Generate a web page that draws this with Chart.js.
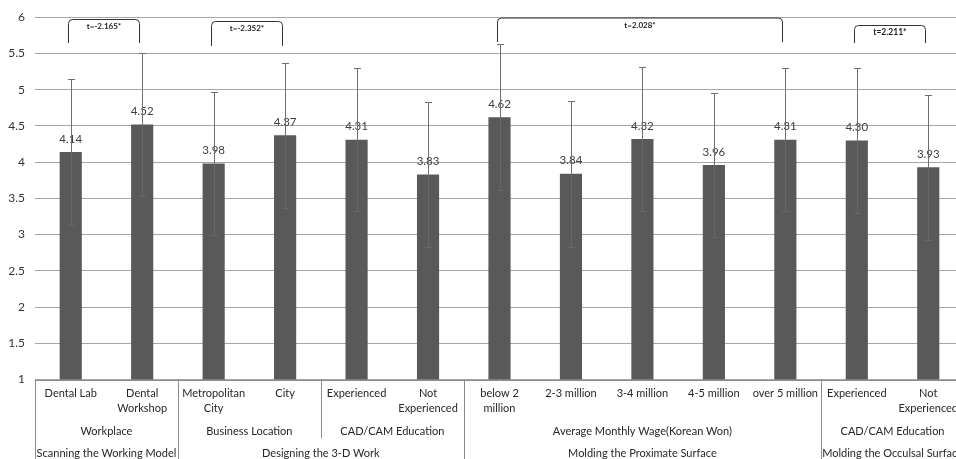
<!DOCTYPE html>
<html>
<head>
<meta charset="utf-8">
<script src="https://cdn.jsdelivr.net/npm/chart.js@4/dist/chart.umd.min.js"></script>
<style>
  html, body { margin: 0; padding: 0; background: #fff; overflow: hidden; }
  #wrap { position: relative; width: 964px; height: 459px; }
</style>
</head>
<body>
<div id="wrap"><canvas id="c"></canvas></div>
<script>
// ---- data ----
const categories = [
  ["Dental Lab"], ["Dental", "Workshop"], ["Metropolitan", "City"], ["City"],
  ["Experienced"], ["Not", "Experienced"], ["below 2", "million"], ["2-3 million"],
  ["3-4 million"], ["4-5 million"], ["over 5 million"], ["Experienced"], ["Not", "Experienced"]
];
const means = [4.14, 4.52, 3.98, 4.37, 4.31, 3.83, 4.62, 3.84, 4.32, 3.96, 4.31, 4.30, 3.93];
const sds   = [1.01, 0.99, 0.99, 1.00, 0.99, 1.00, 1.01, 1.01, 0.99, 1.00, 0.99, 1.00, 1.00];

const groupLabels = ["Workplace", "Business Location", "CAD/CAM Education", "Average Monthly Wage(Korean Won)", "CAD/CAM Education"];
const groupStart  = [0, 2, 4, 6, 11];
const groupEnd    = [1, 3, 5, 10, 12];

const sectionLabels = ["Scanning the Working Model", "Designing the 3-D Work", "Molding the Proximate Surface", "Molding the Occulsal Surface"];
const sectionStart  = [0, 2, 6, 11];
const sectionEnd    = [1, 5, 10, 12];

const testLabels = ["t=-2.165*", "t=-2.352*", "t=2.028*", "t=2.211*"];
const testStart  = [0, 2, 6, 11];
const testEnd    = [1, 3, 10, 12];

const yTicks = [1, 1.5, 2, 2.5, 3, 3.5, 4, 4.5, 5, 5.5, 6];

// ---- styling (not data) ----
const FONT = "Lato, 'Open Sans', sans-serif";
const bracketTopPx = [19, 21, 17.5, 25];
const bracketBotPx = [43, 46, 42, 43];
const bracketFont  = [8, 8, 8, 8.5];

const errorBarPlugin = {
  id: 'errorBars',
  afterDatasetsDraw(chart) {
    const ctx = chart.ctx;
    const y = chart.scales.y;
    const meta = chart.getDatasetMeta(0);
    ctx.save();
    ctx.font = "11.5px " + FONT;
    ctx.fillStyle = '#404040';
    ctx.textAlign = 'center';
    ctx.textBaseline = 'middle';
    meta.data.forEach((bar, i) => {
      ctx.fillText(means[i].toFixed(2), bar.x, bar.y - 13);
    });
    ctx.restore();
    ctx.save();
    meta.data.forEach((bar, i) => {
      const top = Math.round(y.getPixelForValue(means[i] + sds[i])) + 0.5;
      const bot = Math.round(y.getPixelForValue(means[i] - sds[i])) + 0.5;
      const x = Math.round(bar.x) + 0.5;
      ctx.lineWidth = 1;
      ctx.strokeStyle = '#6e6e6e';
      ctx.beginPath();
      ctx.moveTo(x, top); ctx.lineTo(x, bar.y);
      ctx.moveTo(x - 3.5, top); ctx.lineTo(x + 3.5, top);
      ctx.stroke();
      ctx.strokeStyle = '#686868';
      ctx.beginPath();
      ctx.moveTo(x, bar.y); ctx.lineTo(x, bot);
      ctx.moveTo(x - 3.5, bot); ctx.lineTo(x + 3.5, bot);
      ctx.stroke();
    });
    ctx.restore();
  }
};

const bracketPlugin = {
  id: 'brackets',
  afterDraw(chart) {
    const ctx = chart.ctx;
    const x = chart.scales.x;
    ctx.save();
    ctx.strokeStyle = '#333';
    ctx.lineWidth = 1;
    testLabels.forEach((lab, i) => {
      const x1 = Math.round(x.getPixelForValue(testStart[i]) - 3) + 0.5;
      const x2 = Math.round(x.getPixelForValue(testEnd[i]) - 3) + 0.5;
      const t = bracketTopPx[i] + 0.5, b = bracketBotPx[i];
      const r = 4;
      ctx.beginPath();
      ctx.moveTo(x1, b);
      ctx.lineTo(x1, t + r);
      ctx.quadraticCurveTo(x1, t, x1 + r, t);
      ctx.lineTo(x2 - r, t);
      ctx.quadraticCurveTo(x2, t, x2, t + r);
      ctx.lineTo(x2, b);
      ctx.stroke();
      ctx.fillStyle = '#222';
      ctx.font = "bold " + bracketFont[i] + "px " + FONT;
      ctx.textAlign = 'center';
      ctx.textBaseline = 'middle';
      ctx.fillText(lab, (x1 + x2) / 2, t + 7);
    });
    ctx.restore();
  }
};

const axisPlugin = {
  id: 'multiAxis',
  afterDraw(chart) {
    const ctx = chart.ctx;
    const x = chart.scales.x;
    const area = chart.chartArea;
    const base = area.bottom;
    const H = chart.height;
    const step = x.getPixelForValue(1) - x.getPixelForValue(0);
    const edge = (k) => x.getPixelForValue(0) - step / 2 + k * step;
    ctx.save();
    ctx.strokeStyle = '#8c8c8c';
    ctx.lineWidth = 1;
    ctx.beginPath();
    ctx.moveTo(area.left, Math.round(base) + 0.5);
    ctx.lineTo(area.right, Math.round(base) + 0.5);
    ctx.stroke();
    const full = new Set();
    sectionStart.forEach(s => full.add(s));
    sectionEnd.forEach(e => full.add(e + 1));
    ctx.beginPath();
    full.forEach(k => {
      const px = Math.round(edge(k)) + 0.5;
      ctx.moveTo(px, base); ctx.lineTo(px, H);
    });
    const grp = new Set();
    groupStart.forEach(s => grp.add(s));
    groupEnd.forEach(e => grp.add(e + 1));
    grp.forEach(k => {
      if (!full.has(k)) {
        const px = Math.round(edge(k)) + 0.5;
        ctx.moveTo(px, base); ctx.lineTo(px, base + 59);
      }
    });
    ctx.stroke();
    ctx.fillStyle = '#262626';
    ctx.font = "11px " + FONT;
    ctx.textAlign = 'center';
    ctx.textBaseline = 'middle';
    categories.forEach((lines, i) => {
      const cx = x.getPixelForValue(i);
      lines.forEach((ln, j) => ctx.fillText(ln, cx, base + 14 + j * 15));
    });
    groupLabels.forEach((lab, i) => {
      const cx = (edge(groupStart[i]) + edge(groupEnd[i] + 1)) / 2;
      ctx.fillText(lab, cx, base + 52);
    });
    sectionLabels.forEach((lab, i) => {
      const cx = (edge(sectionStart[i]) + edge(sectionEnd[i] + 1)) / 2;
      ctx.fillText(lab, cx, base + 74);
    });
    ctx.restore();
  }
};

new Chart(document.getElementById('c'), {
  type: 'bar',
  data: {
    labels: categories.map(c => c.join(' ')),
    datasets: [{
      data: means,
      backgroundColor: '#595959',
      borderWidth: 0,
      categoryPercentage: 1,
      barPercentage: 0.31
    }]
  },
  options: {
    responsive: true,
    maintainAspectRatio: false,
    animation: false,
    devicePixelRatio: 1,
    layout: { padding: { top: 13, right: 0, bottom: 0, left: 0 } },
    plugins: { legend: { display: false }, tooltip: { enabled: false } },
    scales: {
      x: {
        grid: { display: false },
        border: { display: false },
        ticks: { display: false },
        afterFit(s) { s.height = 79.5; }
      },
      y: {
        min: 1, max: 6,
        afterBuildTicks(s) { s.ticks = yTicks.map(v => ({ value: v })); },
        grid: { color: '#a6a6a6', drawTicks: false },
        border: { display: false },
        ticks: {
          color: '#333',
          font: { family: FONT, size: 12 },
          padding: 10,
          callback: (v) => String(v)
        },
        afterFit(s) { s.width = 35; }
      }
    }
  },
  plugins: [errorBarPlugin, bracketPlugin, axisPlugin]
});
</script>
</body>
</html>
